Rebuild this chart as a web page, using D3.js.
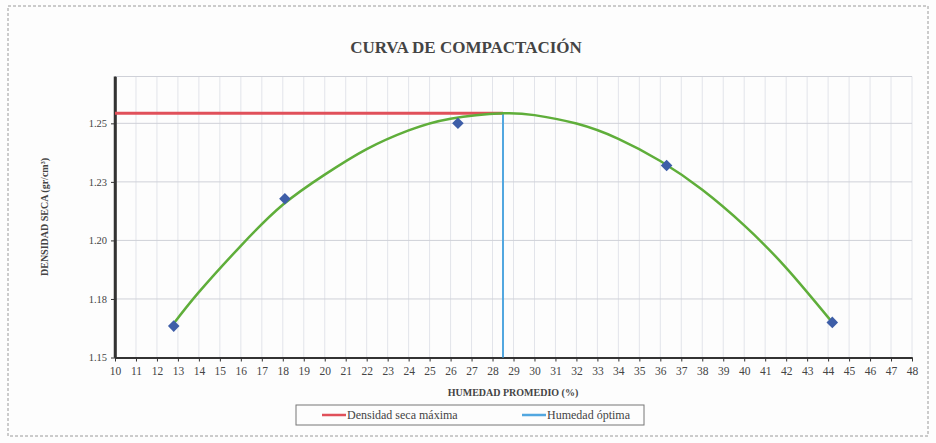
<!DOCTYPE html>
<html>
<head>
<meta charset="utf-8">
<script src="https://cdn.jsdelivr.net/npm/d3@7"></script>
<style>
  body { margin: 0; background: #fff; }
  svg { display: block; font-family: "Liberation Serif", "DejaVu Serif", serif; }
</style>
</head>
<body>
<div id="stage"></div>
<script>
const W = 936, H = 443;

// ensayo points (humedad %, densidad seca)
const humedad = [12.8, 18.1, 26.35, 36.3, 44.2];
const densidad = [1.1634, 1.2178, 1.2500, 1.2320, 1.1650];

// trend curve
const curveX = [12.8, 14, 16, 18, 20, 22, 24, 26, 28.5, 30, 32, 34, 36, 38, 40, 42, 44.2];
const curveY = [1.1645, 1.1779, 1.1977, 1.2152, 1.2281, 1.2390, 1.2470, 1.2520, 1.2543, 1.2535, 1.2499, 1.2434, 1.2339, 1.2216, 1.2064, 1.1883, 1.1650];

const densMax = 1.2543;
const humOpt = 28.5;

const yTicks = [1.15, 1.175, 1.2, 1.225, 1.25];
const yTickLabels = ['1.15', '1.18', '1.20', '1.23', '1.25'];
const xTicks = d3.range(10, 49);

const legendLabels = ['Densidad seca máxima', 'Humedad óptima'];

const svg = d3.select('#stage').append('svg')
  .attr('width', W)
  .attr('height', H);

svg.append('rect')
  .attr('width', W).attr('height', H)
  .style('fill', '#fdfdfd');

// outer frame
svg.append('rect')
  .attr('x', 8).attr('y', 6)
  .attr('width', 920).attr('height', 430)
  .style('fill', 'none')
  .style('stroke', '#9a9a9a')
  .style('stroke-width', 1)
  .style('stroke-dasharray', '3,2');

const x = d3.scaleLinear().domain([10, 48]).range([115, 912]);
const y = d3.scaleLinear().domain([1.15, 1.27]).range([357.5, 76.5]);

// grid
svg.append('g')
  .selectAll('line')
  .data(xTicks.slice(1))
  .join('line')
  .attr('x1', d => x(d)).attr('x2', d => x(d))
  .attr('y1', y(1.27)).attr('y2', y(1.15))
  .style('stroke', '#e2e4ea')
  .style('stroke-width', 1);

svg.append('g')
  .selectAll('line')
  .data(yTicks.slice(1).concat([1.27]))
  .join('line')
  .attr('x1', x(10)).attr('x2', x(48))
  .attr('y1', d => y(d)).attr('y2', d => y(d))
  .style('stroke', '#cfd1d8')
  .style('stroke-width', 1);

// axes
const xAxis = svg.append('g')
  .attr('transform', `translate(0,${y(1.15)})`)
  .call(d3.axisBottom(x).tickValues(xTicks).tickSize(4).tickSizeOuter(0).tickFormat(d3.format('d')))
  .attr('font-family', null);
xAxis.select('.domain').style('stroke', '#333').style('stroke-width', 2);
xAxis.selectAll('.tick line').style('stroke', '#333');
xAxis.selectAll('.tick text')
  .attr('dy', '0.95em')
  .style('font-size', '11.5px')
  .style('fill', '#444');

const yAxis = svg.append('g')
  .attr('transform', `translate(${x(10)},0)`)
  .call(d3.axisLeft(y).tickValues(yTicks).tickSize(4).tickSizeOuter(0)
    .tickFormat((d, i) => yTickLabels[i]))
  .attr('font-family', null);
yAxis.select('.domain').style('stroke', '#333').style('stroke-width', 2.5);
yAxis.selectAll('.tick line').style('stroke', '#333');
yAxis.selectAll('.tick text')
  .attr('x', -8)
  .style('font-size', '10.5px')
  .style('fill', '#444');
// extend y axis to top of plot
svg.append('line')
  .attr('x1', x(10)).attr('x2', x(10))
  .attr('y1', y(1.27)).attr('y2', y(1.15))
  .style('stroke', '#333').style('stroke-width', 2.5);

// max density (red) and optimum moisture (blue)
svg.append('line')
  .attr('x1', x(10)).attr('x2', x(humOpt))
  .attr('y1', y(densMax)).attr('y2', y(densMax))
  .style('stroke', '#e0505a')
  .style('stroke-width', 3);

svg.append('line')
  .attr('x1', x(humOpt)).attr('x2', x(humOpt))
  .attr('y1', y(densMax)).attr('y2', y(1.15))
  .style('stroke', '#52a7e0')
  .style('stroke-width', 2);

// trend curve
const line = d3.line()
  .x((d, i) => x(curveX[i]))
  .y(d => y(d))
  .curve(d3.curveNatural);

svg.append('path')
  .datum(curveY)
  .attr('d', line)
  .style('fill', 'none')
  .style('stroke', '#5fae3a')
  .style('stroke-width', 2.5);

// points
svg.append('g')
  .selectAll('path')
  .data(densidad)
  .join('path')
  .attr('transform', (d, i) => `translate(${x(humedad[i])},${y(d)})`)
  .attr('d', d3.symbol(d3.symbolDiamond2, 85))
  .style('fill', '#3e5ea8');

// titles
svg.append('text')
  .attr('x', 466).attr('y', 53)
  .attr('text-anchor', 'middle')
  .style('font-size', '17px')
  .style('font-weight', 'bold')
  .style('fill', '#444')
  .text('CURVA DE COMPACTACIÓN');

svg.append('text')
  .attr('transform', 'translate(48,217) rotate(-90)')
  .attr('text-anchor', 'middle')
  .style('font-size', '10px')
  .style('font-weight', 'bold')
  .style('fill', '#444')
  .text('DENSIDAD SECA (gr/cm³)');

svg.append('text')
  .attr('x', 513).attr('y', 396)
  .attr('text-anchor', 'middle')
  .style('font-size', '10px')
  .style('font-weight', 'bold')
  .style('fill', '#444')
  .text('HUMEDAD PROMEDIO (%)');

// legend
const legendColors = ['#e0505a', '#52a7e0'];
const legendX = [322, 522];
svg.append('rect')
  .attr('x', 296).attr('y', 405)
  .attr('width', 348).attr('height', 20)
  .style('fill', '#fdfdfd')
  .style('stroke', '#777')
  .style('stroke-width', 1);

const lg = svg.append('g')
  .selectAll('g')
  .data(legendLabels)
  .join('g')
  .attr('transform', (d, i) => `translate(${legendX[i]},415)`);
lg.append('line')
  .attr('x1', 0).attr('x2', 24)
  .style('stroke', (d, i) => legendColors[i])
  .style('stroke-width', 2.5);
lg.append('text')
  .attr('x', 25).attr('dy', '0.35em')
  .style('font-size', '12px')
  .style('fill', '#444')
  .text(d => d);
</script>
</body>
</html>
